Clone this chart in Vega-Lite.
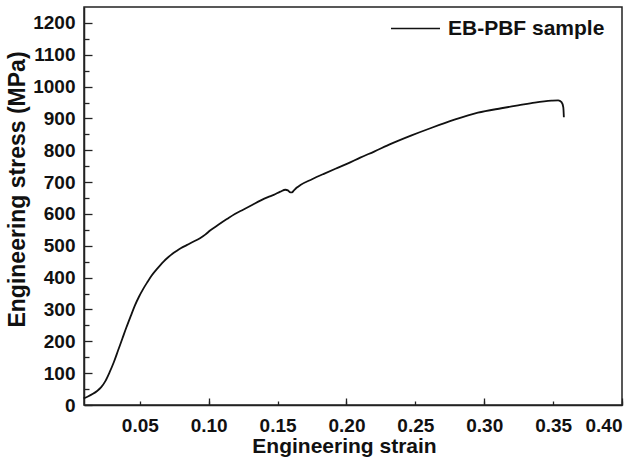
{
  "$schema": "https://vega.github.io/schema/vega-lite/v6.json",
  "width": 538,
  "height": 398,
  "autosize": "none",
  "padding": {"left": 84, "top": 7, "right": 10, "bottom": 56},
  "background": "white",
  "config": {
    "font": "Liberation Sans",
    "view": {"stroke": "#222", "strokeWidth": 1.5},
    "axis": {"grid": false}
  },
  "data": {"values": [
    {"strain": 0.0092, "stress": 21, "series": "EB-PBF sample"},
    {"strain": 0.012, "stress": 26, "series": "EB-PBF sample"},
    {"strain": 0.016, "stress": 35, "series": "EB-PBF sample"},
    {"strain": 0.019, "stress": 44, "series": "EB-PBF sample"},
    {"strain": 0.022, "stress": 56, "series": "EB-PBF sample"},
    {"strain": 0.025, "stress": 75, "series": "EB-PBF sample"},
    {"strain": 0.0281, "stress": 103, "series": "EB-PBF sample"},
    {"strain": 0.0312, "stress": 135, "series": "EB-PBF sample"},
    {"strain": 0.0342, "stress": 171, "series": "EB-PBF sample"},
    {"strain": 0.0373, "stress": 208, "series": "EB-PBF sample"},
    {"strain": 0.0403, "stress": 244, "series": "EB-PBF sample"},
    {"strain": 0.0434, "stress": 279, "series": "EB-PBF sample"},
    {"strain": 0.0464, "stress": 312, "series": "EB-PBF sample"},
    {"strain": 0.0494, "stress": 340, "series": "EB-PBF sample"},
    {"strain": 0.0524, "stress": 364, "series": "EB-PBF sample"},
    {"strain": 0.0555, "stress": 386, "series": "EB-PBF sample"},
    {"strain": 0.0585, "stress": 406, "series": "EB-PBF sample"},
    {"strain": 0.0616, "stress": 423, "series": "EB-PBF sample"},
    {"strain": 0.0646, "stress": 438, "series": "EB-PBF sample"},
    {"strain": 0.0676, "stress": 452, "series": "EB-PBF sample"},
    {"strain": 0.0706, "stress": 464, "series": "EB-PBF sample"},
    {"strain": 0.0737, "stress": 475, "series": "EB-PBF sample"},
    {"strain": 0.0767, "stress": 484, "series": "EB-PBF sample"},
    {"strain": 0.080, "stress": 493, "series": "EB-PBF sample"},
    {"strain": 0.084, "stress": 502, "series": "EB-PBF sample"},
    {"strain": 0.088, "stress": 511, "series": "EB-PBF sample"},
    {"strain": 0.0937, "stress": 524, "series": "EB-PBF sample"},
    {"strain": 0.0975, "stress": 535, "series": "EB-PBF sample"},
    {"strain": 0.101, "stress": 548, "series": "EB-PBF sample"},
    {"strain": 0.107, "stress": 566, "series": "EB-PBF sample"},
    {"strain": 0.1132, "stress": 584, "series": "EB-PBF sample"},
    {"strain": 0.119, "stress": 600, "series": "EB-PBF sample"},
    {"strain": 0.1253, "stress": 614, "series": "EB-PBF sample"},
    {"strain": 0.1315, "stress": 628, "series": "EB-PBF sample"},
    {"strain": 0.1375, "stress": 642, "series": "EB-PBF sample"},
    {"strain": 0.143, "stress": 653, "series": "EB-PBF sample"},
    {"strain": 0.1472, "stress": 660, "series": "EB-PBF sample"},
    {"strain": 0.152, "stress": 670, "series": "EB-PBF sample"},
    {"strain": 0.1557, "stress": 676, "series": "EB-PBF sample"},
    {"strain": 0.1575, "stress": 674, "series": "EB-PBF sample"},
    {"strain": 0.1593, "stress": 668, "series": "EB-PBF sample"},
    {"strain": 0.1605, "stress": 668, "series": "EB-PBF sample"},
    {"strain": 0.1617, "stress": 673, "series": "EB-PBF sample"},
    {"strain": 0.164, "stress": 683, "series": "EB-PBF sample"},
    {"strain": 0.1666, "stress": 691, "series": "EB-PBF sample"},
    {"strain": 0.175, "stress": 709, "series": "EB-PBF sample"},
    {"strain": 0.1836, "stress": 726, "series": "EB-PBF sample"},
    {"strain": 0.192, "stress": 742, "series": "EB-PBF sample"},
    {"strain": 0.2007, "stress": 758, "series": "EB-PBF sample"},
    {"strain": 0.21, "stress": 777, "series": "EB-PBF sample"},
    {"strain": 0.2201, "stress": 796, "series": "EB-PBF sample"},
    {"strain": 0.2322, "stress": 820, "series": "EB-PBF sample"},
    {"strain": 0.2468, "stress": 846, "series": "EB-PBF sample"},
    {"strain": 0.2614, "stress": 870, "series": "EB-PBF sample"},
    {"strain": 0.2784, "stress": 896, "series": "EB-PBF sample"},
    {"strain": 0.2954, "stress": 918, "series": "EB-PBF sample"},
    {"strain": 0.3124, "stress": 932, "series": "EB-PBF sample"},
    {"strain": 0.3246, "stress": 941, "series": "EB-PBF sample"},
    {"strain": 0.3367, "stress": 950, "series": "EB-PBF sample"},
    {"strain": 0.3489, "stress": 956, "series": "EB-PBF sample"},
    {"strain": 0.3537, "stress": 957, "series": "EB-PBF sample"},
    {"strain": 0.3561, "stress": 951, "series": "EB-PBF sample"},
    {"strain": 0.3574, "stress": 935, "series": "EB-PBF sample"},
    {"strain": 0.3578, "stress": 904, "series": "EB-PBF sample"}
  ]},
  "layer": [
    {
      "mark": {"type": "line", "strokeWidth": 1.8, "interpolate": "monotone"},
      "encoding": {
        "x": {"field": "strain", "type": "quantitative", "scale": {"domain": [0.0095, 0.4], "nice": false, "zero": false},
          "axis": {"title": "Engineering strain", "values": [0.05, 0.1, 0.15, 0.2, 0.25, 0.3, 0.35, 0.4], "format": ".2f", "labelFont": "Liberation Sans", "titleFont": "Liberation Sans", "labelFontSize": 19, "labelFontWeight": "bold", "titleFontSize": 21, "titleFontWeight": "bold", "labelColor": "#111", "titleColor": "#111", "domainColor": "#222", "tickColor": "#222", "tickSize": -4, "tickWidth": 1.3, "labelPadding": 15, "titlePadding": 0, "titleX": 260, "domainWidth": 1.5, "labelFlush": true}},
        "y": {"field": "stress", "type": "quantitative", "scale": {"domain": [0, 1250], "nice": false},
          "axis": {"title": "Engineering stress (MPa)", "values": [0, 100, 200, 300, 400, 500, 600, 700, 800, 900, 1000, 1100, 1200], "format": "d", "labelFont": "Liberation Sans", "titleFont": "Liberation Sans", "labelFontSize": 19, "labelFontWeight": "bold", "titleFontSize": 23, "titleFontWeight": "bold", "labelColor": "#111", "titleColor": "#111", "domainColor": "#222", "tickColor": "#222", "tickSize": -8, "tickWidth": 1.3, "labelPadding": 17, "titlePadding": 3, "titleY": 182, "domainWidth": 1.5, "labelFlush": false}},
        "color": {"field": "series", "type": "nominal", "scale": {"range": ["#111"]},
          "legend": {"title": null, "orient": "none", "legendX": 306, "legendY": -4, "padding": 0, "symbolType": "stroke", "symbolSize": 2400, "symbolStrokeWidth": 1.6, "labelFontSize": 21, "labelFontWeight": "bold", "labelColor": "#111", "labelFont": "Liberation Sans", "labelOffset": 7}}
      }
    },
    {
      "mark": {"type": "line", "strokeOpacity": 0},
      "encoding": {
        "x": {"field": "strain", "type": "quantitative",
          "axis": {"orient": "bottom", "title": null, "values": [0.1, 0.2, 0.3, 0.4], "labels": false, "domain": false, "tickSize": -7, "tickWidth": 1.3, "tickColor": "#222"}},
        "y": {"field": "stress", "type": "quantitative",
          "axis": {"orient": "left", "title": null, "values": [50, 150, 250, 350, 450, 550, 650, 750, 850, 950, 1050, 1150], "labels": false, "domain": false, "tickSize": -5, "tickWidth": 1.3, "tickColor": "#222"}}
      }
    }
  ],
  "resolve": {"axis": {"x": "independent", "y": "independent"}}
}
